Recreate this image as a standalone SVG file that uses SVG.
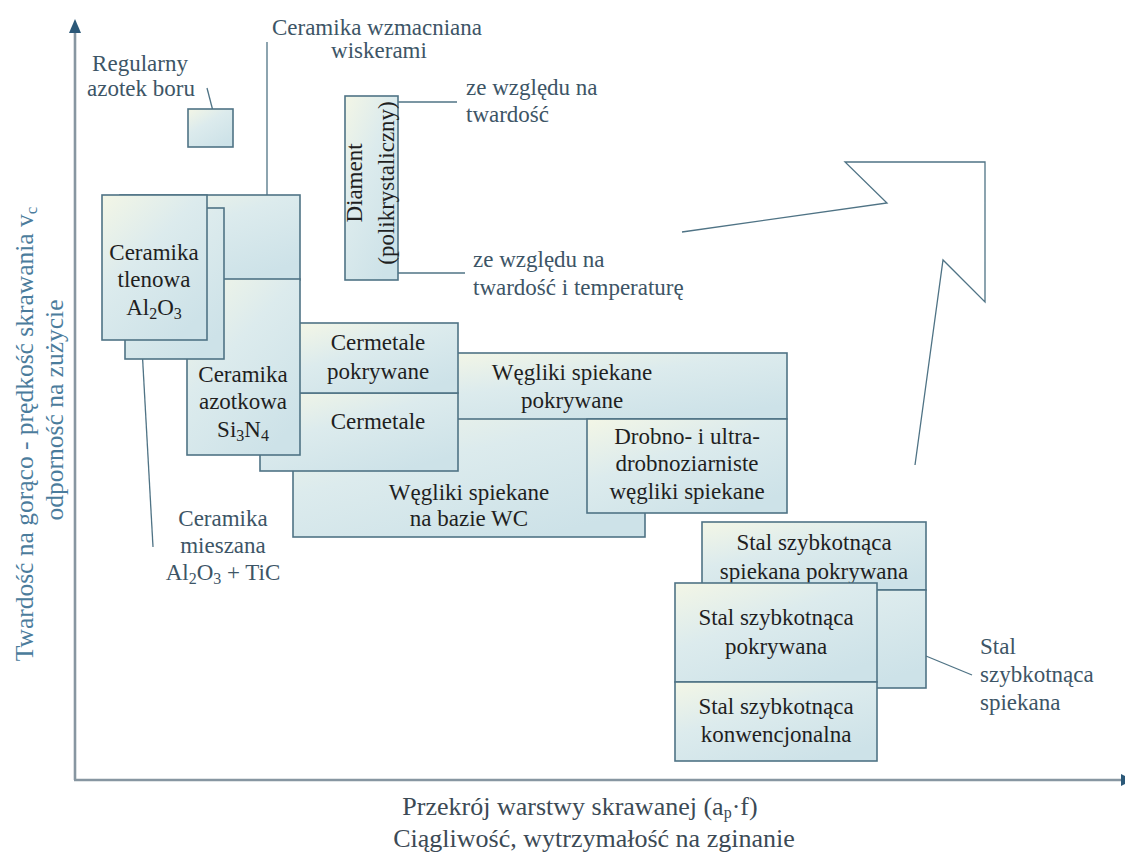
<svg xmlns="http://www.w3.org/2000/svg" width="1125" height="855" viewBox="0 0 1125 855">
  <defs>
    <linearGradient id="boxFill" x1="0" y1="0" x2="0.7" y2="1">
      <stop offset="0" stop-color="#f3f6e6"/>
      <stop offset="0.45" stop-color="#dcebed"/>
      <stop offset="1" stop-color="#cde2e8"/>
    </linearGradient>
  </defs>
  <style>
    .box { fill: url(#boxFill); stroke: #4f7385; stroke-width: 1.6; }
    .t { font-family: "Liberation Serif", "Times New Roman", serif; font-size: 23px; fill: #1f1f1f; text-anchor: middle; }
    .lbl { font-family: "Liberation Serif", "Times New Roman", serif; font-size: 23px; fill: #3d5566; }
    .mid { text-anchor: middle; }
    .lead { stroke: #4f7385; stroke-width: 1.3; fill: none; }
    .axis { stroke: #8796a1; stroke-width: 2.6; fill: none; }
    .head { fill: #2b5878; }
    .ax { font-family: "Liberation Serif", "Times New Roman", serif; font-size: 26px; text-anchor: middle; fill: #3c4a55; }
    .ay { font-family: "Liberation Serif", "Times New Roman", serif; font-size: 25.5px; text-anchor: middle; fill: #4b7c9c; }
  </style>

  <!-- axes -->
  <g id="axes">
    <line class="axis" x1="75" y1="30" x2="75" y2="780"/>
    <polygon class="head" points="75,19 69,33 81,33"/>
    <line class="axis" x1="74" y1="780" x2="1122" y2="780"/>
    <polygon class="head" points="1121,774 1133,780 1121,786"/>
  </g>

  <!-- axis titles -->
  <g id="y-title">
    <text class="ay" transform="translate(33,434) rotate(-90)">Twardość na gorąco - prędkość skrawania v<tspan font-size="17" dy="4">c</tspan></text>
    <text class="ay" transform="translate(63,410) rotate(-90)">odporność na zużycie</text>
  </g>
  <g id="x-title">
    <text class="ax" x="580" y="815">Przekrój warstwy skrawanej (a<tspan font-size="16" dy="3">p</tspan><tspan dy="-3">·f)</tspan></text>
    <text class="ax" x="594" y="847">Ciągliwość, wytrzymałość na zginanie</text>
  </g>

  <!-- connectors: leader lines and the trend arrow -->
  <g id="connectors">
    <line class="lead" x1="207" y1="88" x2="214" y2="115"/>
    <line class="lead" x1="267" y1="42" x2="267" y2="228"/>
    <line class="lead" x1="398" y1="102" x2="457" y2="102"/>
    <line class="lead" x1="398" y1="273" x2="465" y2="273"/>
    <line class="lead" x1="142" y1="348" x2="153" y2="547"/>
    <line class="lead" x1="892" y1="642" x2="972" y2="675"/>
    <polyline class="lead" points="682,232 887,203 845,162 985,162 985,302 943,260 915,465"/>
  </g>

  <!-- free labels -->
  <g id="label-regularny" class="lbl mid">
    <text x="140" y="71">Regularny</text>
    <text x="141" y="96">azotek boru</text>
  </g>
  <g id="label-wiskerami" class="lbl mid">
    <text x="377" y="35">Ceramika wzmacniana</text>
    <text x="379" y="58">wiskerami</text>
  </g>
  <g id="label-twardosc" class="lbl">
    <text x="466" y="95">ze względu na</text>
    <text x="466" y="122">twardość</text>
  </g>
  <g id="label-temperatura" class="lbl">
    <text x="473" y="267">ze względu na</text>
    <text x="473" y="295">twardość i temperaturę</text>
  </g>
  <g id="label-mieszana" class="lbl mid">
    <text x="223" y="526">Ceramika</text>
    <text x="223" y="553">mieszana</text>
    <text x="223" y="580">Al<tspan font-size="16" dy="4">2</tspan><tspan dy="-4">O</tspan><tspan font-size="16" dy="4">3</tspan><tspan dy="-4"> + TiC</tspan></text>
  </g>
  <g id="label-spiekana" class="lbl">
    <text x="980" y="654">Stal</text>
    <text x="980" y="682">szybkotnąca</text>
    <text x="980" y="710">spiekana</text>
  </g>

  <!-- boron nitride -->
  <g id="node-regularny">
    <rect class="box" x="188" y="109" width="45" height="38"/>
  </g>

  <!-- diamond -->
  <g id="node-diament">
    <rect class="box" x="345" y="96" width="53" height="184"/>
    <g transform="translate(371,183) rotate(-90)">
      <text class="t" x="0" y="-9" font-size="23.5">Diament</text>
      <text class="t" x="0" y="23" font-size="23.5">(polikrystaliczny)</text>
    </g>
  </g>

  <!-- ceramics cluster -->
  <g id="node-wiskerami">
    <rect class="box" x="120" y="195" width="180" height="85"/>
  </g>
  <g id="node-weg-wc">
    <rect class="box" x="293" y="410" width="352" height="127"/>
    <text class="t" x="469" y="500">Węgliki spiekane</text>
    <text class="t" x="469" y="526">na bazie WC</text>
  </g>
  <g id="node-weg-pokrywane">
    <rect class="box" x="440" y="353" width="347" height="66"/>
    <text class="t" x="572" y="380">Węgliki spiekane</text>
    <text class="t" x="572" y="408">pokrywane</text>
  </g>
  <g id="node-drobno">
    <rect class="box" x="587" y="419" width="200" height="94"/>
    <text class="t" x="687" y="444">Drobno- i ultra-</text>
    <text class="t" x="687" y="471">drobnoziarniste</text>
    <text class="t" x="687" y="499">węgliki spiekane</text>
  </g>
  <g id="node-cermetale">
    <rect class="box" x="260" y="393" width="198" height="78"/>
    <text class="t" x="378" y="429">Cermetale</text>
  </g>
  <g id="node-cermetale-pokrywane">
    <rect class="box" x="299" y="323" width="159" height="70"/>
    <text class="t" x="378" y="350">Cermetale</text>
    <text class="t" x="378" y="379">pokrywane</text>
  </g>
  <g id="node-azotkowa">
    <rect class="box" x="187" y="279" width="113" height="176"/>
    <text class="t" x="243" y="382">Ceramika</text>
    <text class="t" x="243" y="409">azotkowa</text>
    <text class="t" x="243" y="437">Si<tspan font-size="16" dy="4">3</tspan><tspan dy="-4">N</tspan><tspan font-size="16" dy="4">4</tspan></text>
  </g>
  <g id="node-mieszana">
    <rect class="box" x="125" y="208" width="99" height="151"/>
  </g>
  <g id="node-tlenowa">
    <rect class="box" x="102" y="195" width="105" height="145"/>
    <text class="t" x="154" y="260">Ceramika</text>
    <text class="t" x="154" y="287">tlenowa</text>
    <text class="t" x="154" y="315">Al<tspan font-size="16" dy="4">2</tspan><tspan dy="-4">O</tspan><tspan font-size="16" dy="4">3</tspan></text>
  </g>

  <!-- high-speed steels -->
  <g id="node-stal-spiekana-pokrywana">
    <rect class="box" x="702" y="522" width="224" height="68"/>
    <text class="t" x="814" y="550">Stal szybkotnąca</text>
    <text class="t" x="814" y="579">spiekana pokrywana</text>
  </g>
  <g id="node-stal-spiekana">
    <rect class="box" x="702" y="590" width="224" height="98"/>
  </g>
  <g id="node-stal-pokrywana">
    <rect class="box" x="675" y="583" width="202" height="99"/>
    <text class="t" x="776" y="625">Stal szybkotnąca</text>
    <text class="t" x="776" y="654">pokrywana</text>
  </g>
  <g id="node-stal-konwencjonalna">
    <rect class="box" x="675" y="682" width="202" height="79"/>
    <text class="t" x="776" y="714">Stal szybkotnąca</text>
    <text class="t" x="776" y="742">konwencjonalna</text>
  </g>
</svg>
